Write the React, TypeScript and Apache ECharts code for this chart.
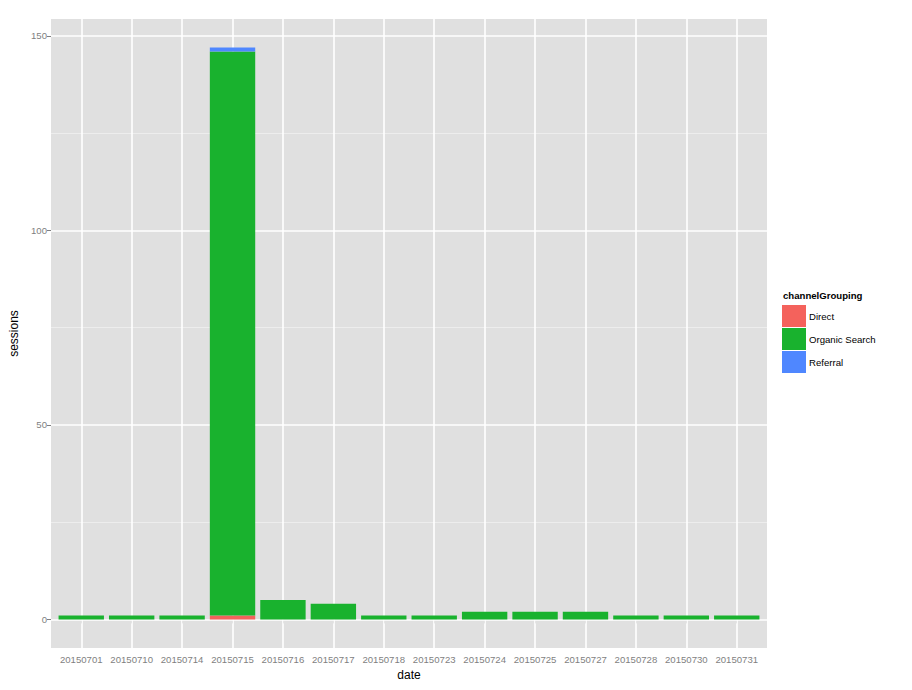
import React, { useEffect, useRef } from "react";
import * as echarts from "echarts";

const dates = [
  "20150701", "20150710", "20150714", "20150715", "20150716", "20150717", "20150718",
  "20150723", "20150724", "20150725", "20150727", "20150728", "20150730", "20150731",
];
const direct = [0, 0, 0, 1, 0, 0, 0, 0, 0, 0, 0, 0, 0, 0];
const organic = [1, 1, 1, 145, 5, 4, 1, 1, 2, 2, 2, 1, 1, 1];
const referral = [0, 0, 0, 1, 0, 0, 0, 0, 0, 0, 0, 0, 0, 0];
const yMajor = [0, 50, 100, 150];
const yMinor = [25, 75, 125];
const seriesNames = ["Direct", "Organic Search", "Referral"];
const colors = ["#F4625C", "#19B22E", "#4F87FF"];

const FONT = "'Liberation Sans', Arial, Helvetica, sans-serif";
const AXIS_GREY = "#7F7F7F";

export default function App() {
  const ref = useRef<HTMLDivElement>(null);
  useEffect(() => {
    if (!ref.current) return;
    const chart = echarts.init(ref.current, undefined, { renderer: "svg" });
    const valueSeries = [direct, organic, referral];
    const total = dates.map((_, i) => direct[i] + organic[i] + referral[i]);
    const maxTotal = Math.max(...total);
    const pad = maxTotal * 0.05;
    // panel geometry (ggplot-like discrete expansion of 0.6 units)
    const panelLeft = 51;
    const panelRight = 145;
    const panelW = 912 - panelLeft - panelRight;
    const unit = panelW / (dates.length + 0.2);
    const inner = unit * 0.1;
    const option: any = {
      animation: false,
      textStyle: { fontFamily: FONT },
      grid: [
        {
          left: panelLeft + inner,
          right: panelRight + inner,
          top: 19,
          bottom: 42,
          show: false,
        },
        {
          left: panelLeft,
          right: panelRight,
          top: 19,
          bottom: 42,
          show: true,
          backgroundColor: "#E0E0E0",
          borderWidth: 0,
        },
      ],
      xAxis: [
        {
          type: "category",
          gridIndex: 0,
          data: dates,
          boundaryGap: true,
          name: "date",
          nameLocation: "middle",
          nameGap: 16,
          nameTextStyle: { fontSize: 12, color: "#000", fontFamily: FONT },
          axisLine: { show: false },
          splitLine: { show: false },
          axisTick: {
            show: true,
            alignWithLabel: true,
            length: 4,
            lineStyle: { color: AXIS_GREY, width: 1 },
          },
          axisLabel: {
            interval: 0,
            color: AXIS_GREY,
            fontSize: 9.6,
            margin: 6,
            fontFamily: FONT,
          },
        },
        {
          type: "value",
          gridIndex: 1,
          show: false,
          min: 0,
          max: 1,
        },
      ],
      yAxis: [
        {
          type: "value",
          gridIndex: 0,
          min: -pad,
          max: maxTotal + pad,
          show: false,
        },
        {
          type: "value",
          gridIndex: 1,
          min: -pad,
          max: maxTotal + pad,
          name: "sessions",
          nameLocation: "middle",
          nameGap: 28,
          nameRotate: 90,
          nameTextStyle: { fontSize: 12, color: "#000", fontFamily: FONT },
          axisLine: { show: false },
          splitLine: { show: false },
          axisTick: {
            show: true,
            length: 4,
            customValues: yMajor,
            lineStyle: { color: AXIS_GREY, width: 1 },
          },
          axisLabel: {
            customValues: yMajor,
            color: AXIS_GREY,
            fontSize: 9.6,
            margin: 4,
            fontFamily: FONT,
          },
        },
      ],
      legend: {
        orient: "vertical",
        left: 782,
        top: 305,
        padding: 0,
        itemWidth: 24,
        itemHeight: 22,
        itemGap: 1,
        icon: "rect",
        data: seriesNames,
        textStyle: { fontSize: 9.6, color: "#000", fontFamily: FONT, padding: [0, 0, 0, -2] },
      },
      graphic: [
        {
          type: "text",
          left: 783,
          top: 290,
          style: {
            text: "channelGrouping",
            fontSize: 9.6,
            fontWeight: "bold",
            fill: "#000",
            fontFamily: FONT,
          },
        },
      ],
      series: [
        {
          type: "line",
          xAxisIndex: 1,
          yAxisIndex: 1,
          data: [],
          z: 1,
          silent: true,
          markLine: {
            silent: true,
            symbol: "none",
            z: 1,
            label: { show: false },
            animation: false,
            data: [
              ...yMinor.map((v) => ({ yAxis: v, lineStyle: { color: "#F0F0F0", width: 0.8, type: "solid" } })),
              ...yMajor.map((v) => ({ yAxis: v, lineStyle: { color: "#FFFFFF", width: 1.6, type: "solid" } })),
            ],
          },
        },
        {
          type: "line",
          xAxisIndex: 0,
          yAxisIndex: 0,
          data: [],
          z: 1,
          silent: true,
          markLine: {
            silent: true,
            symbol: "none",
            z: 1,
            label: { show: false },
            animation: false,
            data: dates.map((d) => ({ xAxis: d, lineStyle: { color: "#FFFFFF", width: 1.6, type: "solid" } })),
          },
        },
        ...valueSeries.map((arr, k) => ({
          name: seriesNames[k],
          type: "bar",
          xAxisIndex: 0,
          yAxisIndex: 0,
          stack: "total",
          z: 10,
          barWidth: "90%",
          itemStyle: { color: colors[k] },
          data: arr,
        })),
      ],
    };
    chart.setOption(option);
    return () => chart.dispose();
  }, []);
  return (
    <div
      ref={ref}
      style={{ position: "absolute", left: 0, top: 0, width: 912, height: 690 }}
    />
  );
}
